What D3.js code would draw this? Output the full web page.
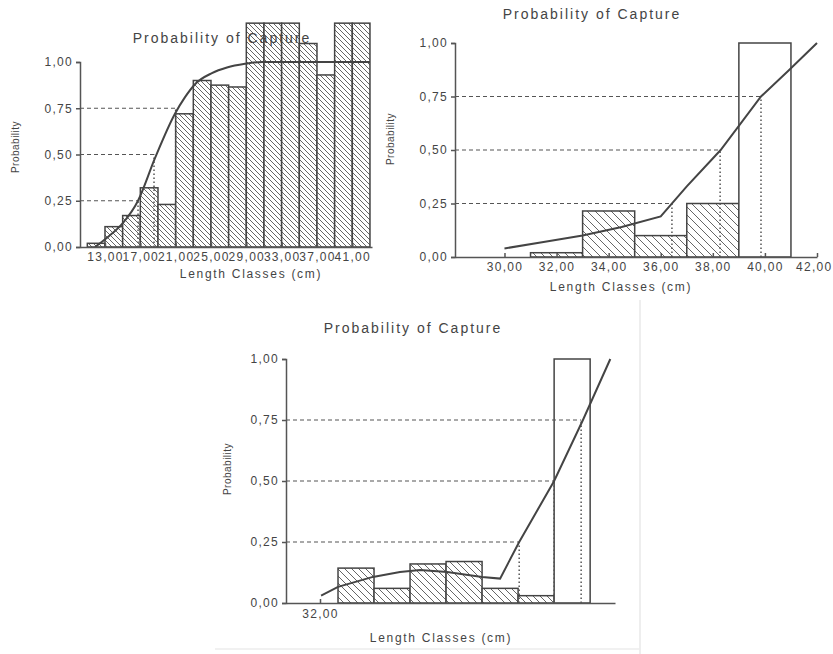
<!DOCTYPE html>
<html>
<head>
<meta charset="utf-8">
<script src="https://cdn.jsdelivr.net/npm/d3@7"></script>
<style>
  body { margin: 0; background: #fff; }
  svg text { font-family: "Liberation Sans", Arial, sans-serif; fill: #444; }
  .axis path, .axis line { stroke: #555; stroke-width: 1.5; }
  .axis text { font-size: 12px; letter-spacing: 1.3px; fill: #444; }
  .title { font-size: 14px; letter-spacing: 2px; }
  .x-label { font-size: 12px; letter-spacing: 1.7px; }
  .y-label { font-size: 10px; letter-spacing: 0.5px; }
</style>
</head>
<body>
<div id="chart"></div>
<script>

// ---- panel A (top left): 2 cm classes, lower bounds
var classesA = [11, 13, 15, 17, 19, 21, 23, 25, 27, 29, 31, 33, 35, 37, 39, 41];
var probA = [0.02, 0.11, 0.17, 0.32, 0.23, 0.72, 0.90, 0.875, 0.865, 1.21, 1.21, 1.21, 1.10, 0.93, 1.21, 1.21];
var curveLenA = [11.87, 13.23, 15.04, 16.74, 18.66, 20.92, 22.06, 23.19, 25.11, 26.81, 28.85, 30.8, 43.0];
var curveProbA = [0.0, 0.05, 0.13, 0.25, 0.48, 0.72, 0.81, 0.88, 0.94, 0.97, 0.99, 1.0, 1.0];
var ticksA = [13, 17, 21, 25, 29, 33, 37, 41];
var levelLenA = [16.74, 18.55, 21.0];

// ---- panel B (top right)
var classesB = [31, 33, 35, 37, 39];
var probB = [0.02, 0.215, 0.10, 0.25, 1.0];
var curveLenB = [30, 31.5, 33, 34.5, 36, 37, 38.3, 39.85, 40.9, 42];
var curveProbB = [0.04, 0.07, 0.10, 0.14, 0.19, 0.33, 0.5, 0.75, 0.87, 1.0];
var ticksB = [30, 32, 34, 36, 38, 40, 42];
var levelLenB = [36.43, 38.28, 39.85];

// ---- panel C (bottom): 1 cm classes, lower bounds
var classesC = [32.5, 33.5, 34.5, 35.5, 36.5, 37.5, 38.5];
var probC = [0.143, 0.06, 0.16, 0.17, 0.06, 0.03, 1.0];
var curveLenC = [32.03, 32.5, 33.47, 34.22, 34.78, 35.53, 36.5, 37.0, 37.53, 38.5, 39.3, 40.06];
var curveProbC = [0.03, 0.066, 0.107, 0.127, 0.135, 0.127, 0.107, 0.10, 0.25, 0.5, 0.75, 1.0];
var ticksC = [32];
var levelLenC = [37.53, 38.5, 39.25];

var levels = [0.25, 0.5, 0.75];
var yTicks = [0, 0.25, 0.5, 0.75, 1];

var locale = d3.formatLocale({ decimal: ",", thousands: ".", grouping: [3], currency: ["", ""] });
var fmt = locale.format(".2f");

var svg = d3.select("#chart").append("svg")
  .attr("width", 833)
  .attr("height", 654);

// hatch patterns ("\\\" lines)
var defs = svg.append("defs");
[["hatchA", 5], ["hatchB", 8], ["hatchC", 7]].forEach(function(h){
  var s = h[1];
  var pat = defs.append("pattern")
    .attr("id", h[0])
    .attr("patternUnits", "userSpaceOnUse")
    .attr("width", s)
    .attr("height", s);
  pat.append("rect").attr("width", s).attr("height", s).attr("fill", "#fff");
  pat.append("path")
    .attr("d", "M0,0L" + s + "," + s + "M" + (s - 1) + ",-1L" + (s + 1) + ",1M-1," + (s - 1) + "L1," + (s + 1))
    .attr("stroke", "#666")
    .attr("stroke-width", 1);
});

// faint scan borders around the lower picture
svg.append("line").attr("x1", 640).attr("x2", 640).attr("y1", 300).attr("y2", 654)
  .attr("stroke", "#e8e8e8").attr("stroke-width", 1.5);
svg.append("line").attr("x1", 215).attr("x2", 640).attr("y1", 649).attr("y2", 649)
  .attr("stroke", "#ececec").attr("stroke-width", 1.5);

function drawPanel(p){
  var x = d3.scaleLinear().domain(p.xDomain).range(p.xRange);
  var y = d3.scaleLinear().domain([0, 1]).range(p.yRange);
  var g = svg.append("g");

  // bars
  g.selectAll(".bar")
    .data(p.classes)
    .enter().append("rect")
    .attr("class", "bar")
    .attr("x", function(d){ return x(d); })
    .attr("y", function(d, i){ return y(p.prob[i]); })
    .attr("width", function(d){ return x(d + p.classWidth) - x(d); })
    .attr("height", function(d, i){ return y(0) - y(p.prob[i]); })
    .attr("fill", function(d, i){ return i === p.openIndex ? "#fff" : "url(#" + p.hatch + ")"; })
    .attr("stroke", "#444")
    .attr("stroke-width", 1.5);

  // L25 / L50 / L75 guide lines
  levels.forEach(function(lv, i){
    g.append("line")
      .attr("x1", p.xRange[0]).attr("x2", x(p.levelLen[i]))
      .attr("y1", y(lv)).attr("y2", y(lv))
      .attr("stroke", "#555").attr("stroke-width", 1.2)
      .attr("stroke-dasharray", "4,3");
    g.append("line")
      .attr("x1", x(p.levelLen[i])).attr("x2", x(p.levelLen[i]))
      .attr("y1", y(0)).attr("y2", y(lv))
      .attr("stroke", "#555").attr("stroke-width", 1.5)
      .attr("stroke-dasharray", "1.5,2.5");
  });

  // selection curve
  var line = d3.line()
    .x(function(d){ return x(d); })
    .y(function(d, i){ return y(p.curveProb[i]); })
    .curve(p.smooth ? d3.curveMonotoneX : d3.curveLinear);

  g.append("path")
    .datum(p.curveLen)
    .attr("d", line)
    .attr("fill", "none")
    .attr("stroke", "#444")
    .attr("stroke-width", 2);

  // axes
  var xAxisG = g.append("g")
    .attr("class", "axis")
    .attr("transform", "translate(0," + y(0) + ")")
    .call(d3.axisBottom(x).tickValues(p.ticks).tickFormat(fmt)
      .tickSizeInner(-4).tickSizeOuter(0).tickPadding(p.xPad));

  // keep a label that would run past the right edge inside the picture
  xAxisG.selectAll(".tick text").each(function(d){
    var t = d3.select(this);
    if (x(d) + 18 > 833) {
      t.attr("text-anchor", "end").attr("x", 833 - x(d) - 1);
    }
  });

  g.append("g")
    .attr("class", "axis")
    .attr("transform", "translate(" + p.xRange[0] + ",0)")
    .call(d3.axisLeft(y).tickValues(yTicks).tickFormat(fmt)
      .tickSize(4).tickPadding(3));

  // labels
  g.append("text")
    .attr("class", "x-label")
    .attr("text-anchor", "middle")
    .attr("x", p.xLabel[0]).attr("y", p.xLabel[1])
    .text("Length Classes (cm)");

  g.append("text")
    .attr("class", "y-label")
    .attr("text-anchor", "middle")
    .attr("transform", "translate(" + p.yLabel[0] + "," + p.yLabel[1] + ")rotate(-90)")
    .text("Probability");

  g.append("text")
    .attr("class", "title")
    .attr("text-anchor", "middle")
    .attr("x", p.title[0]).attr("y", p.title[1])
    .text("Probability of Capture");
}

drawPanel({
  classes: classesA, prob: probA, classWidth: 2, openIndex: -1, hatch: "hatchA",
  curveLen: curveLenA, curveProb: curveProbA, smooth: true,
  ticks: ticksA, levelLen: levelLenA,
  xDomain: [10.17, 43.23], xRange: [80, 372], yRange: [247, 62], xPad: 5,
  title: [222, 43], xLabel: [251, 278], yLabel: [19, 147]
});

drawPanel({
  classes: classesB, prob: probB, classWidth: 2, openIndex: 4, hatch: "hatchB",
  curveLen: curveLenB, curveProb: curveProbB, smooth: false,
  ticks: ticksB, levelLen: levelLenB,
  xDomain: [28.1, 42], xRange: [455, 817], yRange: [257, 43], xPad: 5,
  title: [592, 19], xLabel: [621, 291], yLabel: [394, 139]
});

drawPanel({
  classes: classesC, prob: probC, classWidth: 1, openIndex: 6, hatch: "hatchC",
  curveLen: curveLenC, curveProb: curveProbC, smooth: false,
  ticks: ticksC, levelLen: levelLenC,
  xDomain: [31.056, 40.19], xRange: [286, 615], yRange: [603, 359], xPad: 6,
  title: [413, 333], xLabel: [441, 642], yLabel: [231, 469]
});

</script>
</body>
</html>
